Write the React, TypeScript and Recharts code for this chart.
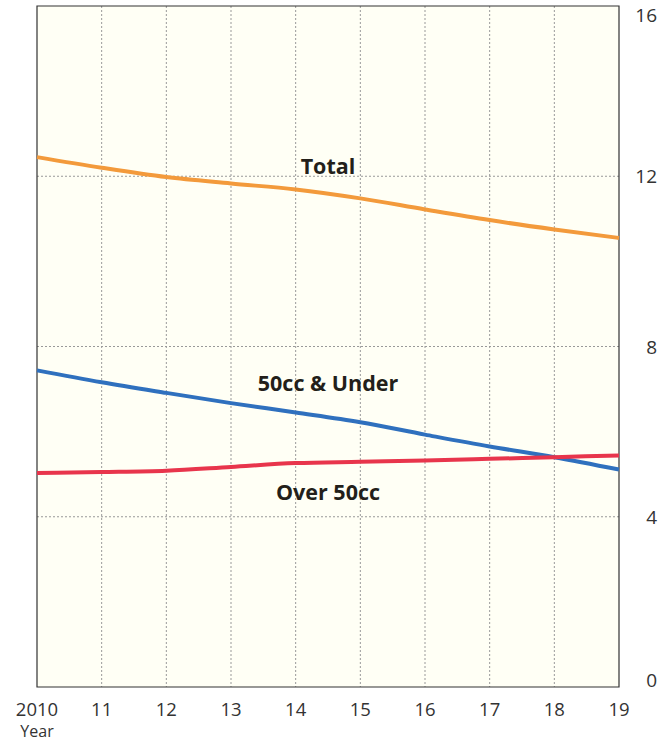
import React from "react";
import {
  LineChart,
  Line,
  XAxis,
  YAxis,
  CartesianGrid,
  ReferenceArea,
  ReferenceDot,
} from "recharts";

// years (x) and values
const years = [2010, 2011, 2012, 2013, 2014, 2015, 2016, 2017, 2018, 2019];
const total = [12.45, 12.2, 11.98, 11.83, 11.69, 11.48, 11.22, 10.97, 10.75, 10.55];
const under50 = [7.44, 7.16, 6.91, 6.67, 6.45, 6.22, 5.93, 5.65, 5.4, 5.11];
const over50 = [5.03, 5.05, 5.08, 5.17, 5.26, 5.29, 5.32, 5.36, 5.4, 5.44];
const yTicks = [0, 4, 8, 12, 16];

const data = years.map((y, i) => ({
  year: y,
  total: total[i],
  under50: under50[i],
  over50: over50[i],
}));

const FONT = "'Open Sans', 'Noto Sans', sans-serif";

const XTick = ({ x, y, payload }: any) => {
  const v = payload.value;
  const label = v === 2010 ? "2010" : String(v % 100);
  return (
    <g>
      <text x={x} y={y + 21} textAnchor="middle" fontSize={18.5} fill="#333" fontFamily={FONT}>
        {label}
      </text>
      {v === 2010 && (
        <text x={x} y={y + 42} textAnchor="middle" fontSize={16} fill="#333" fontFamily={FONT}>
          Year
        </text>
      )}
    </g>
  );
};

const YTick = ({ y, payload }: any) => {
  const v = payload.value;
  let dy = 7;
  if (v === 16) dy = 16;
  if (v === 0) dy = 0;
  return (
    <text x={657} y={y + dy} textAnchor="end" fontSize={19} fill="#333" fontFamily={FONT}>
      {v}
    </text>
  );
};

const seriesLabel = (text: string) => ({
  value: text,
  position: "center" as const,
  fontSize: 21.5,
  fontWeight: 700,
  fill: "#231f1a",
  fontFamily: FONT,
});

export default function App() {
  return (
    <div style={{ width: 670, height: 744, position: "absolute", left: 0, top: 0 }}>
      <style>{"body{margin:0}"}</style>
      <LineChart
        width={670}
        height={744}
        data={data}
        margin={{ top: 6, right: 0, left: 37, bottom: 0 }}
      >
        <CartesianGrid
          stroke="#999"
          strokeDasharray="2 2"
          fill="#FFFFF5"
          horizontalValues={[4, 8, 12]}
          verticalValues={years.slice(1, -1)}
        />
        <XAxis
          dataKey="year"
          type="number"
          domain={[2010, 2019]}
          ticks={years}
          axisLine={false}
          tickLine={false}
          height={57}
          tick={<XTick />}
          interval={0}
        />
        <YAxis
          orientation="right"
          domain={[0, 16]}
          ticks={yTicks}
          axisLine={false}
          tickLine={false}
          width={51}
          tick={<YTick />}
          interval={0}
        />
        <ReferenceArea
          x1={2010}
          x2={2019}
          y1={0}
          y2={16}
          fill="none"
          fillOpacity={0}
          stroke="#333"
          strokeWidth={1.2}
          ifOverflow="visible"
        />
        <Line
          type="monotone"
          dataKey="total"
          stroke="#F39A3B"
          strokeWidth={4}
          dot={false}
          isAnimationActive={false}
        />
        <Line
          type="monotone"
          dataKey="under50"
          stroke="#2F70BE"
          strokeWidth={4}
          dot={false}
          isAnimationActive={false}
        />
        <Line
          type="monotone"
          dataKey="over50"
          stroke="#E8354C"
          strokeWidth={4}
          dot={false}
          isAnimationActive={false}
        />
        <ReferenceDot x={2014.5} y={12.24} r={0} fill="none" stroke="none" label={seriesLabel("Total")} />
        <ReferenceDot x={2014.5} y={7.14} r={0} fill="none" stroke="none" label={seriesLabel("50cc & Under")} />
        <ReferenceDot x={2014.5} y={4.58} r={0} fill="none" stroke="none" label={seriesLabel("Over 50cc")} />
      </LineChart>
    </div>
  );
}
